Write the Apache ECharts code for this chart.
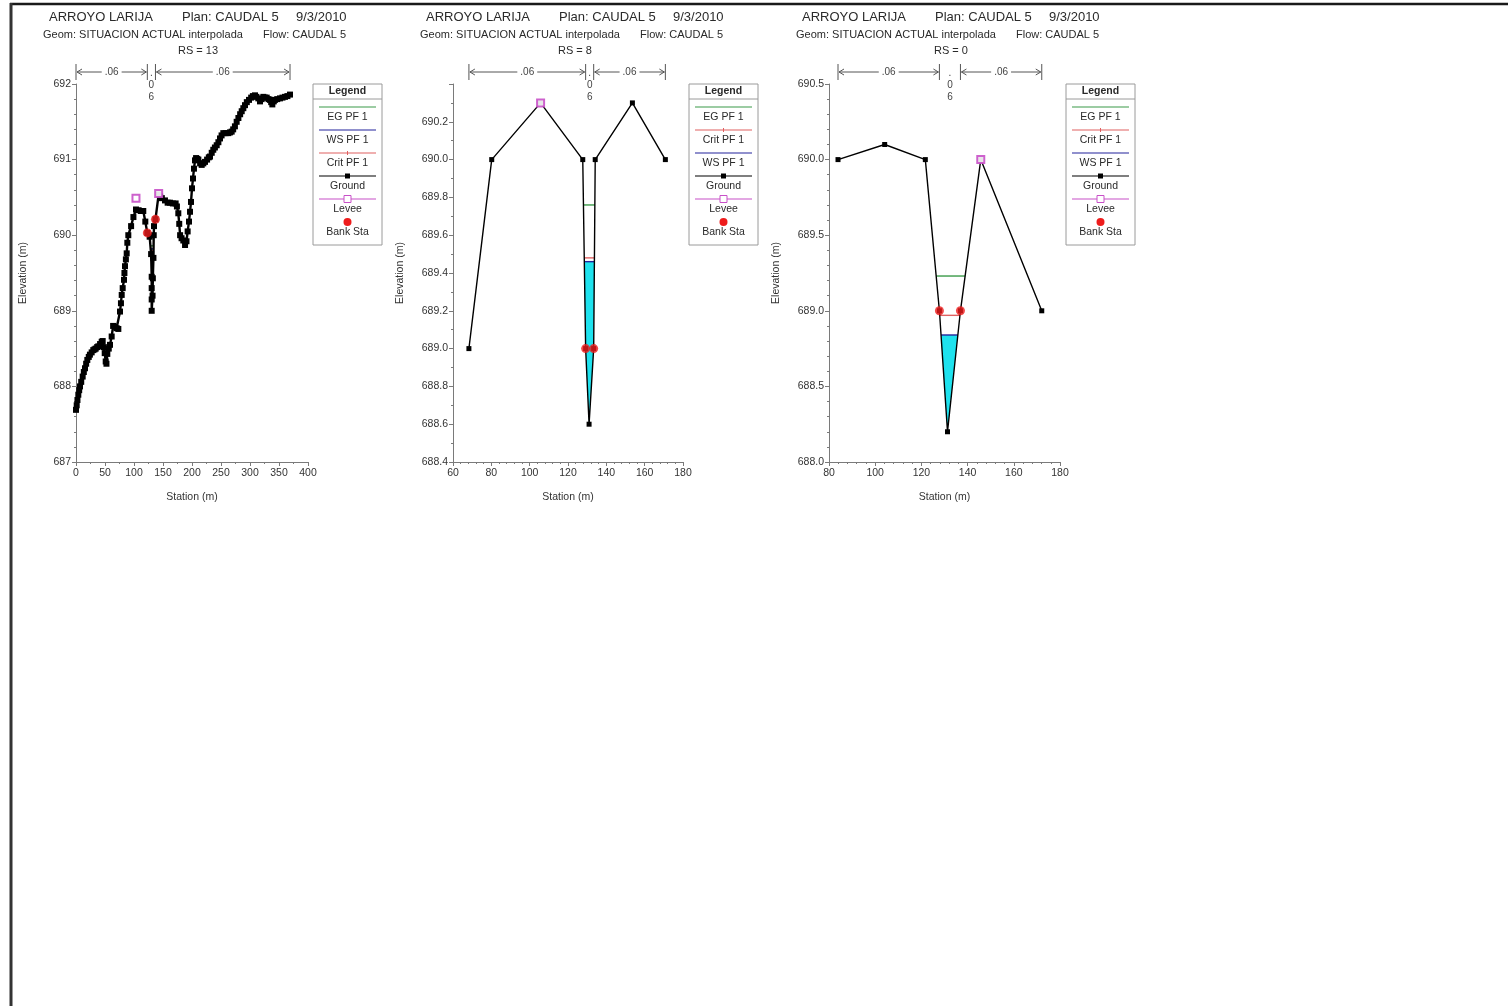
<!DOCTYPE html>
<html>
<head>
<meta charset="utf-8">
<script src="https://cdn.jsdelivr.net/npm/echarts/dist/echarts.min.js"></script>
<style>
  html, body { margin: 0; padding: 0; background: #fff; }
  #chart { width: 1508px; height: 1006px; }
</style>
</head>
<body>
<div id="chart"></div>
<script>
// ---------- Header texts ----------
const titleRiver = 'ARROYO LARIJA';
const titlePlan = 'Plan: CAUDAL 5';
const titleDate = '9/3/2010';
const titleGeom = 'Geom: SITUACION ACTUAL interpolada';
const titleFlow = 'Flow: CAUDAL 5';
const rsLabels = ['RS = 13', 'RS = 8', 'RS = 0'];

// ---------- River station 13 : [station m, elevation m] ----------
const rs13Ground = [
  [0, 687.69], [1.2, 687.75], [2.5, 687.82], [4, 687.89], [5.5, 687.95], [6.9, 688.0], [9, 688.06],
  [11.5, 688.13], [13.5, 688.19], [15.5, 688.24], [17.5, 688.3], [19.5, 688.35], [22, 688.39],
  [24, 688.42], [27, 688.45], [29.8, 688.48], [32, 688.49], [34, 688.5], [36.5, 688.52], [38.5, 688.53],
  [41.5, 688.56], [44.3, 688.59], [46, 688.6], [48, 688.52], [49.5, 688.44], [51.2, 688.33], [52.5, 688.3],
  [54, 688.43], [56.5, 688.5], [58.6, 688.55], [61.5, 688.66], [64, 688.8], [67.2, 688.79], [70, 688.77],
  [73, 688.76], [75.9, 688.99], [77.5, 689.1], [78.8, 689.21], [80.5, 689.3], [82.8, 689.41], [83.5, 689.5],
  [84.5, 689.59], [86, 689.68], [87.4, 689.76], [88.5, 689.9], [90.2, 690.0], [95, 690.12], [99, 690.24],
  [103.4, 690.34], [108, 690.33], [112, 690.32], [116, 690.32], [119.5, 690.18], [123, 690.03], [127, 689.98],
  [129.5, 689.75], [130.5, 689.45], [130.5, 689.3], [130.5, 689.15], [130.5, 689.0], [132, 689.2], [132.5, 689.43],
  [133.5, 689.7], [134, 690.0], [134.5, 690.12], [137, 690.21], [142.5, 690.54], [145, 690.51], [148, 690.49],
  [153.4, 690.46], [158, 690.43], [162, 690.43], [167, 690.42], [171.8, 690.42], [174, 690.38], [176.4, 690.29],
  [178, 690.15], [179.5, 690.0], [182, 689.96], [185, 689.93], [188, 689.87], [190.5, 689.92], [192.5, 690.05],
  [194.8, 690.18], [196.6, 690.31], [198.3, 690.44], [200, 690.62], [201.7, 690.75], [203.4, 690.88],
  [205.2, 690.99], [207, 691.02], [209, 691.01], [211, 691.0], [214, 690.95], [216.7, 690.93], [219.5, 690.95],
  [222.4, 690.97], [226, 691.0], [229, 691.03], [231, 691.04], [234, 691.09], [236.7, 691.13], [239.5, 691.16],
  [242.6, 691.19], [245.5, 691.23], [248.3, 691.28], [251, 691.32], [254, 691.35], [258, 691.35], [262.6, 691.35],
  [265.5, 691.36], [268.4, 691.37], [271, 691.4], [274, 691.44], [277, 691.5], [280, 691.55], [283, 691.6],
  [285.7, 691.64], [288.5, 691.68], [291.4, 691.72], [294.5, 691.76], [298.3, 691.79], [302, 691.82], [305, 691.84],
  [308.6, 691.85], [311, 691.83], [314.3, 691.81], [317.2, 691.77], [320, 691.8], [323, 691.83], [326, 691.82],
  [328.8, 691.82], [332, 691.8], [334.5, 691.79], [336.5, 691.76], [338.5, 691.73], [341, 691.77], [343, 691.79],
  [347, 691.8], [351.7, 691.81], [356, 691.82], [360.3, 691.83], [364.5, 691.84], [369, 691.86]
];
const rs13Banks = [123, 137];
const rs13Levees = [[103.4, 690.49], [142.5, 690.55]];
const rs13EG = 689.86;
const rs13WS = 689.82;
const rs13Crit = 689.80;
const rs13N = ['.06', '.06', '.06'];

// ---------- River station 8 ----------
const rs8Ground = [
  [68.3, 689.0], [80.2, 690.0], [105.7, 690.3], [127.7, 690.0], [129.2, 689.0],
  [131.0, 688.6], [133.4, 689.0], [134.2, 690.0], [153.6, 690.3], [170.8, 690.0]
];
const rs8Banks = [129.2, 133.4];
const rs8Levees = [[105.7, 690.3]];
const rs8EG = 689.76;
const rs8WS = 689.46;
const rs8Crit = 689.48;
const rs8N = ['.06', '.06', '.06'];

// ---------- River station 0 ----------
const rs0Ground = [
  [83.9, 690.0], [104.1, 690.1], [121.7, 690.0], [127.8, 689.0],
  [131.3, 688.2], [136.9, 689.0], [145.7, 690.0], [172.1, 689.0]
];
const rs0Banks = [127.8, 136.9];
const rs0Levees = [[145.7, 690.0]];
const rs0EG = 689.23;
const rs0WS = 688.84;
const rs0Crit = 688.97;
const rs0N = ['.06', '.06', '.06'];

// ---------- Legend entries (order differs between plots) ----------
const legendOrderA = ['EG PF 1', 'WS PF 1', 'Crit PF 1', 'Ground', 'Levee', 'Bank Sta'];
const legendOrderB = ['EG PF 1', 'Crit PF 1', 'WS PF 1', 'Ground', 'Levee', 'Bank Sta'];

// ---------- Styling ----------
const FONT = '"Liberation Sans", Arial, Helvetica, sans-serif';
const C = {
  eg: '#3a9a48', ws: '#23239c', crit: '#e06060', ground: '#000000',
  levee: '#c850c8', bank: '#ee1c1c', water: '#1ee2ee', axis: '#7a7a7a', text: '#2a2a2a'
};

// layout of the three cross-section plots
const gridLeft = [76, 453, 829];
const gridWidth = [232, 230, 231];
const gridTop = 84;
const gridHeight = 378;
const groundLineWidth = [2.4, 1.4, 1.4];
const groundSymbolSize = [6, 5, 5];

const xAxisCfg = [
  { min: 0, max: 400, interval: 50, minor: 2 },
  { min: 60, max: 180, interval: 20, minor: 5 },
  { min: 80, max: 180, interval: 20, minor: 5 }
];
const yAxisCfg = [
  { min: 687, max: 692, interval: 1, minor: 5, dec: 0, showMax: true },
  { min: 688.4, max: 690.4, interval: 0.2, minor: 2, dec: 1, showMax: false },
  { min: 688, max: 690.5, interval: 0.5, minor: 5, dec: 1, showMax: true }
];

// ---------- Geometry helpers ----------
function elevAt(ground, s) {
  for (let i = 0; i < ground.length; i++) if (ground[i][0] === s) return ground[i][1];
  for (let i = 1; i < ground.length; i++) {
    const a = ground[i - 1], b = ground[i];
    if (s >= a[0] && s <= b[0]) return a[1] + (b[1] - a[1]) * (s - a[0]) / (b[0] - a[0]);
  }
  return ground[0][1];
}

// wetted part of the channel below a level: polygon + the two edge stations
function wetted(ground, banks, level) {
  let iMin = -1;
  for (let i = 0; i < ground.length; i++) {
    const s = ground[i][0];
    if (s >= banks[0] && s <= banks[1] && (iMin < 0 || ground[i][1] < ground[iMin][1])) iMin = i;
  }
  let i = iMin, j = iMin;
  while (i > 0 && ground[i - 1][1] < level) i--;
  while (j < ground.length - 1 && ground[j + 1][1] < level) j++;
  const cross = (p, q) => {
    const t = (level - p[1]) / (q[1] - p[1]);
    return [p[0] + t * (q[0] - p[0]), level];
  };
  const left = i > 0 ? cross(ground[i], ground[i - 1]) : [ground[i][0], level];
  const right = j < ground.length - 1 ? cross(ground[j], ground[j + 1]) : [ground[j][0], level];
  const poly = [left].concat(ground.slice(i, j + 1)).concat([right]);
  return { poly, left: left[0], right: right[0] };
}

// ---------- Series for one cross section ----------
function panelSeries(k, ground, banks, levees, eg, ws, crit, nLabels) {
  const wsArea = wetted(ground, banks, ws);
  const lines = [
    { level: eg, color: C.eg, w: wetted(ground, banks, eg) },
    { level: crit, color: C.crit, w: wetted(ground, banks, crit) },
    { level: ws, color: C.ws, w: wsArea }
  ];
  const yMax = yAxisCfg[k].max;
  const edges = [ground[0][0], banks[0], banks[1], ground[ground.length - 1][0]];
  return [
    { // water fill
      type: 'custom', xAxisIndex: k, yAxisIndex: k, silent: true, z: 2,
      data: [[ground[0][0], ws]],
      renderItem: (params, api) => ({
        type: 'polygon',
        shape: { points: wsArea.poly.map(p => api.coord(p)) },
        style: { fill: C.water }
      })
    },
    { // energy grade, critical and water surface lines
      type: 'custom', xAxisIndex: k, yAxisIndex: k, silent: true, z: 3,
      data: [[ground[0][0], ws]],
      renderItem: (params, api) => ({
        type: 'group',
        children: lines.map(l => {
          const a = api.coord([l.w.left, l.level]);
          const b = api.coord([l.w.right, l.level]);
          return {
            type: 'line',
            shape: { x1: a[0], y1: a[1], x2: b[0], y2: b[1] },
            style: { stroke: l.color, lineWidth: 1.4 }
          };
        })
      })
    },
    { // ground
      type: 'line', xAxisIndex: k, yAxisIndex: k, data: ground, z: 4,
      symbol: 'rect', symbolSize: groundSymbolSize[k], showAllSymbol: true,
      lineStyle: { color: C.ground, width: groundLineWidth[k] },
      itemStyle: { color: C.ground }, silent: true
    },
    { // bank stations
      type: 'scatter', xAxisIndex: k, yAxisIndex: k, z: 6, silent: true,
      data: banks.map(s => [s, elevAt(ground, s)]),
      symbol: 'circle', symbolSize: 9, itemStyle: { color: C.bank }
    },
    { // levees
      type: 'scatter', xAxisIndex: k, yAxisIndex: k, z: 7, silent: true,
      data: levees, symbol: 'emptyRect', symbolSize: 7,
      itemStyle: { color: C.levee, borderWidth: 1.2, opacity: 0.9 }
    },
    { // Manning's n ranges above the plot
      type: 'custom', xAxisIndex: k, yAxisIndex: k, silent: true, z: 8, clip: false,
      data: [[edges[0], yMax]],
      renderItem: (params, api) => {
        const yl = api.coord([edges[0], yMax])[1] - 12;
        const xs = edges.map(s => api.coord([s, yMax])[0]);
        const st = { stroke: '#555', lineWidth: 1 };
        const kids = [];
        const tick = x => kids.push({ type: 'line', shape: { x1: x, y1: yl - 8, x2: x, y2: yl + 8 }, style: st });
        const seg = (x0, x1, label) => {
          tick(x0); tick(x1);
          kids.push({ type: 'line', shape: { x1: x0 + 1, y1: yl, x2: x1 - 1, y2: yl }, style: st });
          kids.push({ type: 'polyline', shape: { points: [[x0 + 6, yl - 3], [x0 + 1, yl], [x0 + 6, yl + 3]] }, style: Object.assign({ fill: null }, st) });
          kids.push({ type: 'polyline', shape: { points: [[x1 - 6, yl - 3], [x1 - 1, yl], [x1 - 6, yl + 3]] }, style: Object.assign({ fill: null }, st) });
          kids.push({
            type: 'text', x: (x0 + x1) / 2, y: yl,
            style: {
              text: label, fill: '#444', font: '10px ' + FONT, align: 'center', verticalAlign: 'middle',
              backgroundColor: '#fff', padding: [0, 3]
            }
          });
        };
        seg(xs[0], xs[1], nLabels[0]);
        seg(xs[2], xs[3], nLabels[2]);
        kids.push({
          type: 'text', x: (xs[1] + xs[2]) / 2, y: yl - 5,
          style: {
            text: nLabels[1].split('').join('\n'), fill: '#444', font: '10px ' + FONT,
            align: 'center', verticalAlign: 'top', lineHeight: 12
          }
        });
        return { type: 'group', children: kids };
      }
    }
  ];
}

// ---------- Legend boxes ----------
function legendGraphic(left, order) {
  const top = 84, w = 69, h = 161;
  const els = [
    { type: 'rect', shape: { x: left, y: top, width: w, height: h }, style: { fill: '#fff', stroke: '#9a9a9a', lineWidth: 1 }, z: 10 },
    { type: 'text', x: left + w / 2, y: top + 7, style: { text: 'Legend', font: 'bold 10.5px ' + FONT, fill: C.text, align: 'center', verticalAlign: 'middle' }, z: 11 },
    { type: 'line', shape: { x1: left, y1: top + 15, x2: left + w, y2: top + 15 }, style: { stroke: '#9a9a9a', lineWidth: 1 }, z: 11 }
  ];
  order.forEach((name, i) => {
    const ly = 107 + 23 * i, ty = 117 + 23 * i;
    const x1 = left + 6, x2 = left + w - 6, xm = left + w / 2;
    const line = color => els.push({ type: 'line', shape: { x1, y1: ly, x2, y2: ly }, style: { stroke: color, lineWidth: 1.2 }, z: 11 });
    if (name === 'EG PF 1') line(C.eg);
    if (name === 'WS PF 1') line(C.ws);
    if (name === 'Crit PF 1') {
      line(C.crit);
      els.push({ type: 'line', shape: { x1: xm, y1: ly - 2, x2: xm, y2: ly + 2 }, style: { stroke: C.crit, lineWidth: 1 }, z: 11 });
    }
    if (name === 'Ground') {
      line(C.ground);
      els.push({ type: 'rect', shape: { x: xm - 2.5, y: ly - 2.5, width: 5, height: 5 }, style: { fill: C.ground }, z: 12 });
    }
    if (name === 'Levee') {
      line(C.levee);
      els.push({ type: 'rect', shape: { x: xm - 3.5, y: ly - 3.5, width: 7, height: 7 }, style: { fill: '#fff', stroke: C.levee, lineWidth: 1 }, z: 12 });
    }
    if (name === 'Bank Sta') {
      els.push({ type: 'circle', shape: { cx: xm, cy: ly, r: 4 }, style: { fill: C.bank }, z: 12 });
    }
    els.push({ type: 'text', x: xm, y: ty, style: { text: name, font: '10.5px ' + FONT, fill: C.text, align: 'center', verticalAlign: 'middle' }, z: 11 });
  });
  return els;
}

// ---------- Title blocks ----------
function titleGraphic(k) {
  const g = gridLeft[k];
  const t = (x, y, text, size) => ({
    type: 'text', x, y,
    style: { text, font: size + 'px ' + FONT, fill: C.text, align: 'left', verticalAlign: 'middle' }
  });
  return [
    t(g - 27, 17, titleRiver, 13),
    t(g + 106, 17, titlePlan, 13),
    t(g + 220, 17, titleDate, 13),
    t(g - 33, 35, titleGeom, 11),
    t(g + 187, 35, titleFlow, 11),
    { type: 'text', x: g + 122, y: 51, style: { text: rsLabels[k], font: '11px ' + FONT, fill: C.text, align: 'center', verticalAlign: 'middle' } }
  ];
}

const chart = echarts.init(document.getElementById('chart'), null, { renderer: 'canvas' });

const axisText = { color: '#333', fontFamily: FONT, fontSize: 10.5 };

const option = {
  animation: false,
  backgroundColor: '#fff',
  grid: gridLeft.map((l, k) => ({ left: l, top: gridTop, width: gridWidth[k], height: gridHeight })),
  xAxis: xAxisCfg.map((c, k) => ({
    type: 'value', gridIndex: k, min: c.min, max: c.max, interval: c.interval,
    name: 'Station (m)', nameLocation: 'middle', nameGap: 30,
    nameTextStyle: axisText,
    axisLine: { onZero: false, lineStyle: { color: C.axis } },
    axisTick: { length: 4, lineStyle: { color: C.axis } },
    minorTick: { show: true, splitNumber: c.minor, length: 2, lineStyle: { color: C.axis } },
    axisLabel: Object.assign({ margin: 6 }, axisText),
    splitLine: { show: false }
  })),
  yAxis: yAxisCfg.map((c, k) => ({
    type: 'value', gridIndex: k, min: c.min, max: c.max, interval: c.interval,
    name: 'Elevation (m)', nameLocation: 'middle', nameGap: 47,
    nameTextStyle: axisText,
    axisLine: { show: true, onZero: false, lineStyle: { color: C.axis } },
    axisTick: { show: true, length: 4, lineStyle: { color: C.axis } },
    minorTick: { show: true, splitNumber: c.minor, length: 2, lineStyle: { color: C.axis } },
    axisLabel: Object.assign({
      margin: 5, showMaxLabel: c.showMax,
      formatter: v => Number(v).toFixed(c.dec)
    }, axisText),
    splitLine: { show: false }
  })),
  series: []
    .concat(panelSeries(0, rs13Ground, rs13Banks, rs13Levees, rs13EG, rs13WS, rs13Crit, rs13N))
    .concat(panelSeries(1, rs8Ground, rs8Banks, rs8Levees, rs8EG, rs8WS, rs8Crit, rs8N))
    .concat(panelSeries(2, rs0Ground, rs0Banks, rs0Levees, rs0EG, rs0WS, rs0Crit, rs0N)),
  graphic: [
    // page frame
    { type: 'line', shape: { x1: 10, y1: 4, x2: 1508, y2: 4 }, style: { stroke: '#1a1a1a', lineWidth: 2.5 } },
    { type: 'line', shape: { x1: 11, y1: 3, x2: 11, y2: 1006 }, style: { stroke: '#333', lineWidth: 3 } }
  ]
    .concat(titleGraphic(0), titleGraphic(1), titleGraphic(2))
    .concat(legendGraphic(313, legendOrderA), legendGraphic(689, legendOrderB), legendGraphic(1066, legendOrderB))
};

chart.setOption(option);
</script>
</body>
</html>
